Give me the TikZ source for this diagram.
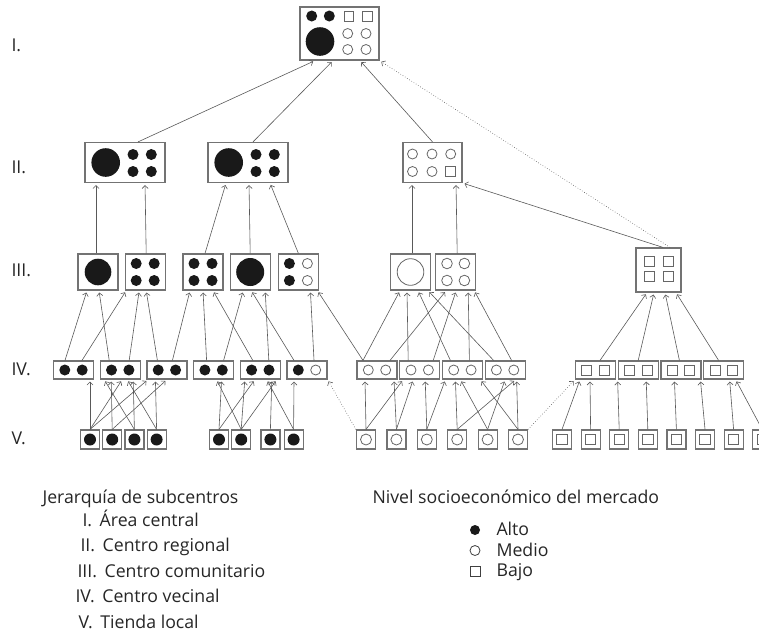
\documentclass[tikz,border=0pt]{standalone}
\usepackage{fontspec}
\setmainfont{Open Sans}
\usetikzlibrary{arrows.meta, positioning}

\begin{document}
\begin{tikzpicture}[
            x = 1pt, y = -1pt, % plain points, y runs downwards
            > = {Straight Barb[length=3pt, width=6pt]}, % open arrow head
            font = \fontsize{17.7}{21}\selectfont,
            text = black!85
        ]

        \tikzstyle{centro} = [draw = black!55, line width = 1.2pt, fill = white, inner sep = 0pt]
        \tikzstyle{area} = [centro, minimum width = 79pt, minimum height = 53pt]
        \tikzstyle{regional} = [centro, minimum width = 80pt, minimum height = 40pt]
        \tikzstyle{comunitario} = [centro, minimum width = 40pt, minimum height = 36pt]
        \tikzstyle{vecinal} = [centro, minimum width = 40pt, minimum height = 18pt]
        \tikzstyle{tienda} = [centro, minimum size = 19pt]
        \tikzstyle{liga} = [->, black!65, line width = 0.6pt, shorten > = 2pt]
        \tikzstyle{debil} = [liga, dotted]
        \tikzstyle{alto} = [fill = black!90]
        \tikzstyle{medio} = [draw = black!60, line width = 0.8pt]
        \tikzstyle{bajo} = [draw = black!60, line width = 0.8pt]

        \useasboundingbox (0,0) rectangle (759,638);

        % subcentres, top to bottom
        \node[area] (i) at (339.5,33.5) {};

        \node[regional] (ii1) at (125,162.5) {};
        \node[regional] (ii2) at (248,162.5) {};
        \node[regional, minimum width = 59pt] (ii3) at (432.5,162.5) {};

        \node[comunitario] (iii1) at (98,272) {};
        \node[comunitario] (iii2) [right = 6pt of iii1] {};
        \node[comunitario] (iii3) at (203,272) {};
        \node[comunitario] (iii4) [right = 6pt of iii3] {};
        \node[comunitario] (iii5) [right = 7pt of iii4] {};
        \node[comunitario] (iii6) at (410.5,272) {};
        \node[comunitario] (iii7) [right = 4pt of iii6] {};
        \node[comunitario, minimum width = 45pt, minimum height = 44pt] (iii8) at (658.5,270) {};

        \node[vecinal] (iv1) at (73.5,370) {};
        \node[vecinal] (iv2) [right = 5.5pt of iv1] {};
        \node[vecinal] (iv3) [right = 5.5pt of iv2] {};
        \node[vecinal] (iv4) [right = 5.5pt of iv3] {};
        \node[vecinal] (iv5) [right = 5.5pt of iv4] {};
        \node[vecinal] (iv6) [right = 5.5pt of iv5] {};
        \node[vecinal] (iv7) at (377,370) {};
        \node[vecinal] (iv8) [right = 1.5pt of iv7] {};
        \node[vecinal] (iv9) [right = 1.5pt of iv8] {};
        \node[vecinal] (iv10) [right = 1.5pt of iv9] {};
        \node[vecinal] (iv11) at (595.5,370) {};
        \node[vecinal] (iv12) [right = 1.5pt of iv11] {};
        \node[vecinal] (iv13) [right = 1.5pt of iv12] {};
        \node[vecinal] (iv14) [right = 1.5pt of iv13] {};

        \node[tienda] (v1) at (90,439.5) {};
        \node[tienda] (v2) [right = 2pt of v1] {};
        \node[tienda] (v3) [right = 2pt of v2] {};
        \node[tienda] (v4) [right = 2pt of v3] {};
        \node[tienda] (v5) at (219,439.5) {};
        \node[tienda] (v6) [right = 2pt of v5] {};
        \node[tienda] (v7) [right = 9pt of v6] {};
        \node[tienda] (v8) [right = 3pt of v7] {};
        \node[tienda] (v9) at (366,439.5) {};
        \node[tienda] (v10) [right = 10.2pt of v9] {};
        \node[tienda] (v11) [right = 10.2pt of v10] {};
        \node[tienda] (v12) [right = 10.2pt of v11] {};
        \node[tienda] (v13) [right = 10.2pt of v12] {};
        \node[tienda] (v14) [right = 10.2pt of v13] {};
        \node[tienda] (v15) at (562,439.5) {};
        \node[tienda] (v16) [right = 8.4pt of v15] {};
        \node[tienda] (v17) [right = 8.4pt of v16] {};
        \node[tienda] (v18) [right = 8.4pt of v17] {};
        \node[tienda] (v19) [right = 8.4pt of v18] {};
        \node[tienda] (v20) [right = 8.4pt of v19] {};
        \node[tienda] (v21) [right = 8.4pt of v20] {};
        \node[tienda] (v22) [right = 8.4pt of v21] {};

        % market marks inside the boxes
        \fill[alto] ([shift={(-27.8,-17.5)}]i) circle (5.5pt)
                    ([shift={(-10.2,-17.5)}]i) circle (5.5pt)
                    ([shift={(-19.5,8)}]i) circle (14.3pt);
        \draw[bajo] ([shift={(4.7,-22)}]i) rectangle +(9.5,9.5)
                    ([shift={(23,-22)}]i) rectangle +(9.5,9.5);
        \foreach \dx/\dy in {8.2/0, 26.5/0, 8.2/16, 26.5/16}
            \draw[medio] ([shift={(\dx,\dy)}]i) circle (5pt);

        \foreach \n in {ii1,ii2} {
            \fill[alto] ([xshift=-19.3pt]\n) circle (14.3pt);
            \foreach \dx/\dy in {8/-8, 26.3/-8, 8/9, 26.3/9}
                \fill[alto] ([shift={(\dx,\dy)}]\n) circle (5.5pt);
        }
        \foreach \dx/\dy in {-20/-8.5, -0.5/-8.5, 18.2/-8.5, -20/9, -0.5/9}
            \draw[medio] ([shift={(\dx,\dy)}]ii3) circle (5pt);
        \draw[bajo] ([shift={(13.2,4)}]ii3) rectangle +(10,10);

        \fill[alto] (iii1) circle (13.3pt);
        \fill[alto] (iii4) circle (14pt);
        \foreach \n in {iii2,iii3}
            \foreach \dx/\dy in {-9/-8.5, 9/-8.5, -9/8.5, 9/8.5}
                \fill[alto] ([shift={(\dx,\dy)}]\n) circle (5.5pt);
        \fill[alto] ([shift={(-9,-8.5)}]iii5) circle (5.5pt) ([shift={(-9,8.5)}]iii5) circle (5.5pt);
        \draw[medio] ([shift={(9,-8.5)}]iii5) circle (5pt) ([shift={(9,8.5)}]iii5) circle (5pt);
        \draw[medio] (iii6) circle (13.3pt);
        \foreach \dx/\dy in {-8.7/-8.5, 8.7/-8.5, -8.7/8.5, 8.7/8.5}
            \draw[medio] ([shift={(\dx,\dy)}]iii7) circle (5.3pt);
        \foreach \dx/\dy in {-14.5/-14, 4.5/-14, -14.5/1, 4.5/1}
            \draw[bajo] ([shift={(\dx,\dy)}]iii8) rectangle +(10,10);

        \foreach \n in {iv1,iv2,iv3,iv4,iv5}
            \fill[alto] ([xshift=-8.7pt]\n) circle (5.5pt) ([xshift=8.7pt]\n) circle (5.5pt);
        \fill[alto] ([xshift=-8.7pt]iv6) circle (5.5pt);
        \draw[medio] ([xshift=8.7pt]iv6) circle (5pt);
        \foreach \n in {iv7,iv8,iv9,iv10}
            \draw[medio] ([xshift=-8.7pt]\n) circle (5pt) ([xshift=8.7pt]\n) circle (5pt);
        \foreach \n in {iv11,iv12,iv13,iv14}
            \draw[bajo] ([shift={(-13.7,-5)}]\n) rectangle +(10,10)
                        ([shift={(3.7,-5)}]\n) rectangle +(10,10);

        \foreach \n in {v1,v2,v3,v4,v5,v6,v7,v8}
            \fill[alto] (\n) circle (6pt);
        \foreach \n in {v9,v10,v11,v12,v13,v14}
            \draw[medio] (\n) circle (5.5pt);
        \foreach \n in {v15,v16,v17,v18,v19,v20,v21,v22}
            \draw[bajo] ([shift={(-5.2,-5.2)}]\n) rectangle +(10.4,10.4);

        % links up to the area central
        \path[liga] ([xshift=13pt]ii1.north) edge ([xshift=-24.5pt]i.south);
        \path[liga] ([xshift=5pt]ii2.north) edge ([xshift=-6.5pt]i.south);
        \path[liga] (ii3.north) edge ([xshift=20.5pt]i.south);
        \path[debil] ([xshift=11.5pt]iii8.north) edge (i.south east);

        % links up to the regional centres
        \path[liga] ([xshift=-2pt]iii1.north) edge ([xshift=-29pt]ii1.south);
        \path[liga] ([xshift=1pt]iii2.north) edge ([xshift=20pt]ii1.south);
        \path[liga] ([xshift=2pt]iii3.north) edge ([xshift=-22pt]ii2.south);
        \path[liga] (iii4.north) edge ([xshift=1pt]ii2.south);
        \path[liga] (iii5.north) edge ([xshift=22pt]ii2.south);
        \path[liga] ([xshift=1.5pt]iii6.north) edge ([xshift=-20.5pt]ii3.south);
        \path[liga] ([xshift=1.5pt]iii7.north) edge ([xshift=23.5pt]ii3.south);
        \path[liga] ([xshift=4.5pt]iii8.north) edge (ii3.south east);

        % links up to the community centres
        \path[liga] ([xshift=-8.5pt]iv1.north) edge ([xshift=-11pt]iii1.south);
        \path[liga] ([xshift=8.5pt]iv1.north) edge ([xshift=-19pt]iii2.south);
        \path[liga] ([xshift=-11pt]iv2.north) edge ([xshift=1pt]iii1.south);
        \path[liga] ([xshift=9pt]iv2.north) edge ([xshift=-6pt]iii2.south);
        \path[liga] ([xshift=-9.5pt]iv3.north) edge ([xshift=1pt]iii2.south);
        \path[liga] ([xshift=5.5pt]iv3.north) edge ([xshift=-13pt]iii3.south);
        \path[liga] ([xshift=-7pt]iv4.north) edge (iii3.south);
        \path[liga] ([xshift=10pt]iv4.north) edge ([xshift=-7pt]iii4.south);
        \path[liga] ([xshift=-7.5pt]iv5.north) edge ([xshift=10pt]iii3.south);
        \path[liga] ([xshift=8.5pt]iv5.north) edge ([xshift=15pt]iii4.south);
        \path[liga] ([xshift=-13pt]iv6.north) edge ([xshift=1pt]iii4.south);
        \path[liga] ([xshift=7pt]iv6.north) edge ([xshift=12pt]iii5.south);
        \path[liga] ([xshift=-14pt]iv7.north) edge ([xshift=19pt]iii5.south)
                                              edge ([xshift=-10.5pt]iii6.south);
        \path[liga] ([xshift=13pt]iv7.north) edge ([xshift=-9.5pt]iii7.south);
        \path[liga] ([xshift=-11.5pt]iv8.north) edge ([xshift=-3.5pt]iii6.south);
        \path[liga] ([xshift=13.5pt]iv8.north) edge ([xshift=0.5pt]iii7.south);
        \path[liga] ([xshift=-12pt]iv9.north) edge ([xshift=7.5pt]iii6.south);
        \path[liga] ([xshift=7pt]iv9.north) edge ([xshift=12.5pt]iii7.south);
        \path[liga] ([xshift=-11.5pt]iv10.north) edge ([xshift=17.5pt]iii6.south);
        \path[liga] ([xshift=6.5pt]iv10.north) edge ([xshift=18.5pt]iii7.south);
        \path[liga] ([xshift=4.5pt]iv11.north) edge ([xshift=-11.5pt]iii8.south);
        \path[liga] (iv12.north) edge ([xshift=-4.5pt]iii8.south);
        \path[liga] ([xshift=-1.5pt]iv13.north) edge ([xshift=6.5pt]iii8.south);
        \path[liga] ([xshift=-5pt]iv14.north) edge ([xshift=17.5pt]iii8.south);

        % links up to the neighbourhood centres
        \path[liga] (v1.north) edge ([xshift=16.5pt]iv1.south)
                               edge ([xshift=2pt]iv2.south)
                               edge ([xshift=-19pt]iv3.south);
        \path[liga] (v2.north) edge ([xshift=-9pt]iv2.south)
                               edge (iv3.south);
        \path[liga] (v3.north) edge ([xshift=-16pt]iv2.south)
                               edge ([xshift=13pt]iv2.south);
        \path[liga] (v4.north) edge ([xshift=7pt]iv2.south)
                               edge ([xshift=-11.5pt]iv3.south);
        \path[liga] (v5.north) edge ([xshift=8pt]iv4.south)
                               edge ([xshift=-5.5pt]iv5.south);
        \path[liga] (v6.north) edge ([xshift=3pt]iv4.south)
                               edge ([xshift=-15.5pt]iv5.south)
                               edge ([xshift=16.5pt]iv5.south);
        \path[liga] (v7.north) edge ([xshift=11.5pt]iv5.south);
        \path[liga] (v8.north) edge ([xshift=6.5pt]iv5.south)
                               edge ([xshift=-13pt]iv6.south);
        \path[liga] (v9.north) edge ([xshift=-12pt]iv7.south)
                               edge ([xshift=-16.5pt]iv8.south);
        \path[liga] (v10.north) edge ([xshift=17pt]iv7.south)
                                edge ([xshift=-6.5pt]iv8.south);
        \path[liga] (v11.north) edge ([xshift=5.5pt]iv8.south)
                                edge ([xshift=-17pt]iv9.south);
        \path[liga] (v12.north) edge ([xshift=-7pt]iv9.south)
                                edge ([xshift=10.5pt]iv10.south);
        \path[liga] (v13.north) edge ([xshift=-2pt]iv9.south)
                                edge (iv10.south);
        \path[liga] (v14.north) edge ([xshift=11.5pt]iv10.south)
                                edge ([xshift=18pt]iv9.south);
        \path[liga] (v15.north) edge ([xshift=-15.5pt]iv11.south);
        \path[liga] (v16.north) edge ([xshift=-5.5pt]iv11.south);
        \path[liga] (v17.north) edge (iv12.south west);
        \path[liga] (v18.north) edge ([xshift=8pt]iv12.south);
        \path[liga] (v19.north) edge ([xshift=-6.5pt]iv13.south);
        \path[liga] (v20.north) edge ([xshift=19.5pt]iv13.south);
        \path[liga] (v21.north) edge ([xshift=6pt]iv14.south);
        \path[liga] (v22.north) edge ([xshift=12pt]iv14.south);
        \path[debil] (v9.north west) edge (iv6.south east);
        \path[debil] (v14.north east) edge (iv11.south west);

        % level numbers
        \node[anchor = west] (n1) at (8,45) {I.};
        \node[anchor = west] (n2) at (8,167) {II.};
        \node[anchor = west] (n3) at (8,270) {III.};
        \node[anchor = west] (n4) at (8,369) {IV.};
        \node[anchor = west] (n5) at (8,438) {V.};

        % legends
        \node[anchor = base west] (jerarquia) at (39,503) {Jerarquía de subcentros};
        \node[anchor = base west] (j1) at (79,526) {I.\ \,Área central};
        \node[anchor = base west] (j2) at (77,551.5) {II.\ \,Centro regional};
        \node[anchor = base west] (j3) at (74,577) {III.\ \,Centro comunitario};
        \node[anchor = base west] (j4) at (72,602.5) {IV.\ \,Centro vecinal};
        \node[anchor = base west] (j5) at (75,628) {V.\ \,Tienda local};

        \node[anchor = base west] (nivel) at (369,503) {Nivel socioeconómico del mercado};
        \node[circle, fill = black!90, minimum size = 10pt, inner sep = 0pt] (kalto) at (475,530) {};
        \node[circle, draw = black!75, line width = 0.8pt, minimum size = 10pt, inner sep = 0pt] (kmedio) at (475,550.5) {};
        \node[draw = black!75, line width = 0.8pt, minimum size = 10pt, inner sep = 0pt] (kbajo) at (475,571) {};
        \node[anchor = base west] (talto) at (493,535) {Alto};
        \node[anchor = base west] (tmedio) at (493,556) {Medio};
        \node[anchor = base west] (tbajo) at (493,576.5) {Bajo};
    \end{tikzpicture}
\end{document}
